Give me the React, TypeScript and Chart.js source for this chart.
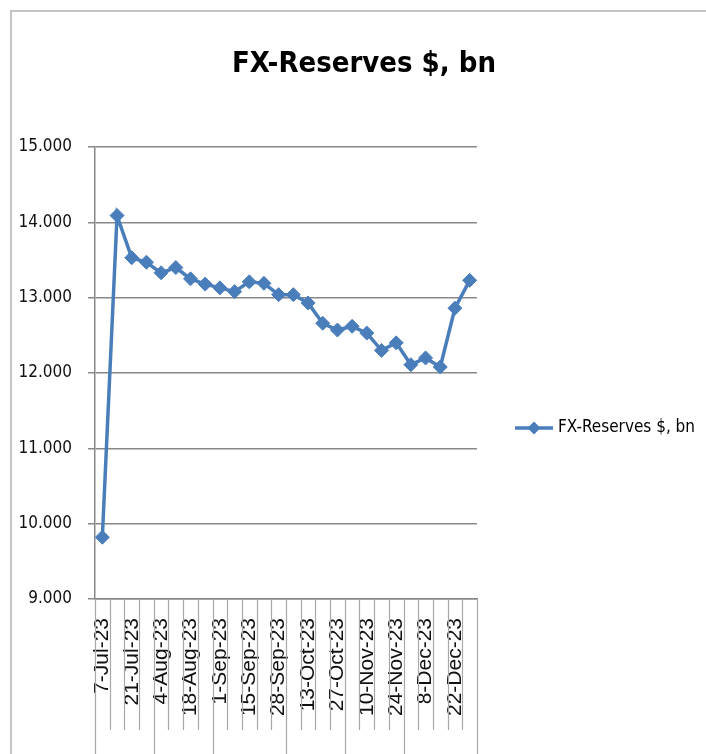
import { useEffect, useRef } from "react";
import { Chart, registerables } from "chart.js";

Chart.register(...registerables);

const chartTitle = "FX-Reserves $, bn";
const seriesName = "FX-Reserves $, bn";

const dates = [
  "7-Jul-23", "14-Jul-23", "21-Jul-23", "28-Jul-23",
  "4-Aug-23", "11-Aug-23", "18-Aug-23", "25-Aug-23",
  "1-Sep-23", "8-Sep-23", "15-Sep-23", "22-Sep-23", "28-Sep-23",
  "6-Oct-23", "13-Oct-23", "20-Oct-23", "27-Oct-23",
  "3-Nov-23", "10-Nov-23", "17-Nov-23", "24-Nov-23",
  "1-Dec-23", "8-Dec-23", "15-Dec-23", "22-Dec-23", "29-Dec-23",
];

const values = [
  9.82, 14.09, 13.53, 13.47, 13.33, 13.40, 13.25, 13.18, 13.13, 13.08,
  13.21, 13.19, 13.04, 13.04, 12.93, 12.66, 12.57, 12.62, 12.53, 12.30,
  12.40, 12.11, 12.20, 12.08, 12.86, 13.23,
];

const yMin = 9;
const yMax = 15;
const yStep = 1;

const NARROW = '"DejaVu Sans Condensed", "Liberation Sans Narrow", "Liberation Sans", sans-serif';
const REGULAR = '"Liberation Sans", Arial, sans-serif';
const LINE_COLOR = "#4A7EBB";
const AXIS_COLOR = "#888888";
const SEP_COLOR = "#a8a8a8";

export default function App() {
  const ref = useRef<HTMLCanvasElement>(null);

  useEffect(() => {
    const canvas = ref.current;
    if (!canvas) return;

    const monthOf = (s: string) => s.split("-")[1];

    const separators = {
      id: "separators",
      afterDraw(chart: any) {
        const xs = chart.scales.x;
        const ctx = chart.ctx;
        const n = dates.length;
        ctx.save();
        ctx.strokeStyle = SEP_COLOR;
        ctx.lineWidth = 1.2;
        for (let i = 0; i <= n; i++) {
          const x = xs.getPixelForValue(i - 0.5);
          const long = i === 0 || i === n || monthOf(dates[i]) !== monthOf(dates[i - 1]);
          const y0 = xs.top;
          const y1 = long ? chart.height : xs.top + 131;
          ctx.beginPath();
          ctx.moveTo(Math.round(x) + 0.5, y0);
          ctx.lineTo(Math.round(x) + 0.5, y1);
          ctx.stroke();
        }
        ctx.restore();
      },
    };

    const titleAndLegend = {
      id: "titleAndLegend",
      afterDraw(chart: any) {
        const ctx = chart.ctx;
        ctx.save();
        ctx.fillStyle = "#000";
        ctx.font = `bold 29px ${NARROW}`;
        ctx.textAlign = "center";
        ctx.textBaseline = "alphabetic";
        ctx.fillText(chartTitle, 364, 72);

        const ly = 428;
        ctx.strokeStyle = LINE_COLOR;
        ctx.lineWidth = 3.5;
        ctx.beginPath();
        ctx.moveTo(515, ly);
        ctx.lineTo(553, ly);
        ctx.stroke();
        ctx.fillStyle = LINE_COLOR;
        ctx.beginPath();
        const cx = 534, r = 6.5;
        ctx.moveTo(cx, ly - r);
        ctx.lineTo(cx + r, ly);
        ctx.lineTo(cx, ly + r);
        ctx.lineTo(cx - r, ly);
        ctx.closePath();
        ctx.fill();

        ctx.fillStyle = "#000";
        ctx.font = `17px ${NARROW}`;
        ctx.textAlign = "left";
        ctx.textBaseline = "middle";
        ctx.fillText(seriesName, 558, ly);
        ctx.restore();
      },
    };

    const chart = new Chart(canvas, {
      type: "line",
      data: {
        labels: dates,
        datasets: [
          {
            label: seriesName,
            data: values,
            borderColor: LINE_COLOR,
            backgroundColor: LINE_COLOR,
            borderWidth: 3.5,
            pointStyle: "rectRot",
            pointRadius: 7,
            pointBackgroundColor: LINE_COLOR,
            pointBorderColor: LINE_COLOR,
            pointBorderWidth: 1,
            tension: 0,
          },
        ],
      },
      options: {
        animation: false,
        responsive: true,
        maintainAspectRatio: false,
        layout: { padding: { top: 147, right: 229, left: 0, bottom: 0 } },
        plugins: {
          legend: { display: false },
          title: { display: false },
          tooltip: { enabled: false },
        },
        scales: {
          x: {
            type: "category",
            offset: true,
            grid: { display: false, drawTicks: false },
            border: { display: true, color: AXIS_COLOR, width: 1.5 },
            ticks: {
              autoSkip: false,
              maxRotation: 90,
              minRotation: 90,
              padding: 19,
              color: "#111",
              font: { family: REGULAR, size: 21 },
              callback: (_v: any, i: number) => (i % 2 === 0 ? dates[i] : ""),
            },
            afterFit: (scale: any) => {
              scale.height = 155;
            },
          },
          y: {
            min: yMin,
            max: yMax,
            grid: { color: AXIS_COLOR, lineWidth: 1.5, tickLength: 7, drawTicks: true },
            border: { display: true, color: AXIS_COLOR, width: 1.5 },
            ticks: {
              stepSize: yStep,
              padding: 16,
              color: "#111",
              font: { family: NARROW, size: 17 },
              callback: (v: any) => Number(v).toFixed(3),
            },
            afterFit: (scale: any) => {
              scale.width = 95;
            },
          },
        },
      },
      plugins: [separators, titleAndLegend],
    });

    return () => chart.destroy();
  }, []);

  return (
    <div style={{ position: "fixed", inset: 0, overflow: "hidden", background: "#fff" }}>
      <div
        style={{
          position: "absolute",
          left: 10,
          top: 10,
          width: 3000,
          height: 3000,
          borderTop: "2px solid #c4c4c4",
          borderLeft: "2px solid #c4c4c4",
        }}
      />
      <div style={{ position: "absolute", left: 0, top: 0, width: 706, height: 754 }}>
        <canvas ref={ref} />
      </div>
    </div>
  );
}
